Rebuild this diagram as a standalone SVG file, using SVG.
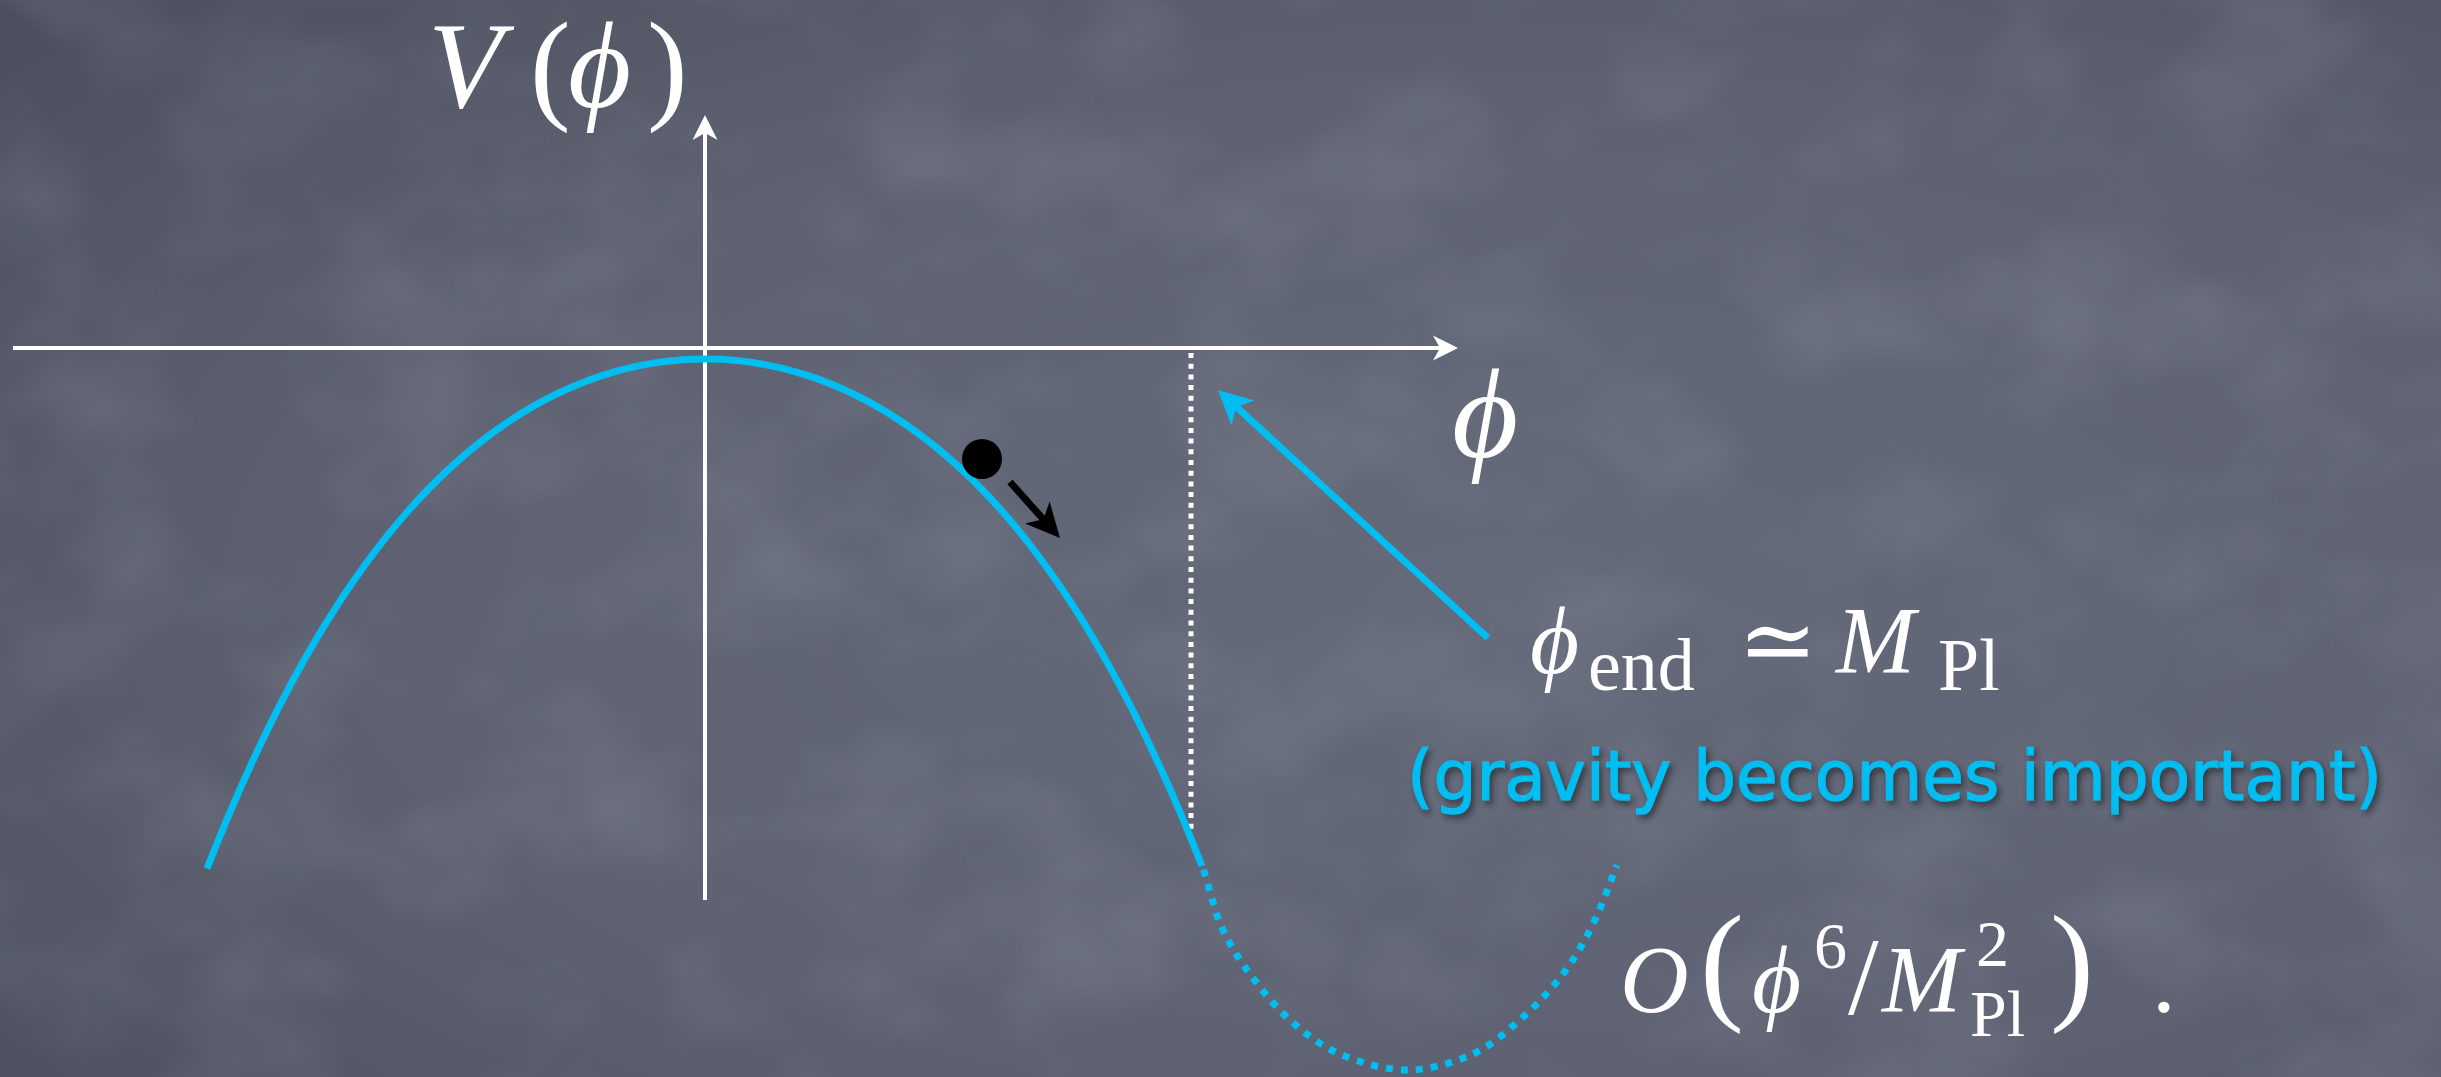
<svg xmlns="http://www.w3.org/2000/svg" width="2441" height="1077" viewBox="0 0 2441 1077">
  <style>
    .math { font-family: "Liberation Serif", "DejaVu Serif", serif; fill: #ffffff; }
    .it { font-style: italic; }
    .axis { stroke: #ffffff; stroke-width: 4; fill: none; }
    .cy { stroke: #00bef2; stroke-width: 7; fill: none; }
    .note { font-family: "DejaVu Sans", "Noto Sans", sans-serif; fill: #00bef2; stroke: #00bef2; stroke-width: 1.2; font-size: 70px; }
  </style>
  <defs>
    <radialGradient id="bg" cx="0.62" cy="0.55" r="0.8">
      <stop offset="0" stop-color="#656a7a"/>
      <stop offset="0.6" stop-color="#5d6171"/>
      <stop offset="1" stop-color="#4c505e"/>
    </radialGradient>
    <filter id="chalk" x="0" y="0" width="1" height="1">
      <feTurbulence type="fractalNoise" baseFrequency="0.006 0.008" numOctaves="3" seed="7"/>
      <feColorMatrix type="matrix" values="0 0 0 0 0.56  0 0 0 0 0.59  0 0 0 0 0.67  0 0 0 1.0 -0.42"/>
    </filter>
    <filter id="shadow" x="-5%" y="-20%" width="110%" height="150%">
      <feDropShadow dx="3" dy="4" stdDeviation="3" flood-color="#22252e" flood-opacity="0.75"/>
    </filter>
    <marker id="whiteHead" viewBox="-16 -13 28 26" refX="0" refY="0" markerWidth="28" markerHeight="26" markerUnits="userSpaceOnUse" orient="auto">
      <path d="M10,0 L-15,-12.5 L-8,0 L-15,12.5 Z" fill="#ffffff"/>
    </marker>
    <marker id="cyanHead" viewBox="-23 -18 37 36" refX="0" refY="0" markerWidth="37" markerHeight="36" markerUnits="userSpaceOnUse" orient="auto">
      <path d="M12,0 L-22,-17 L-13,0 L-22,17 Z" fill="#00bef2"/>
    </marker>
    <marker id="blackHead" viewBox="-23 -18 37 36" refX="0" refY="0" markerWidth="37" markerHeight="36" markerUnits="userSpaceOnUse" orient="auto">
      <path d="M12,0 L-22,-16.5 L-13,0 L-22,16.5 Z" fill="#000000"/>
    </marker>
  </defs>

  <g id="background">
    <rect width="2441" height="1077" fill="url(#bg)"/>
    <rect width="2441" height="1077" filter="url(#chalk)" opacity="0.28"/>
  </g>

  <g id="axes">
    <line class="axis" x1="13" y1="348" x2="1448" y2="348" marker-end="url(#whiteHead)"/>
    <line class="axis" x1="705" y1="900" x2="705" y2="125" marker-end="url(#whiteHead)"/>
    <line x1="1191" y1="353" x2="1191" y2="834" stroke="#ffffff" stroke-width="5" stroke-dasharray="5 5.7"/>
  </g>

  <g id="potential">
    <path class="cy" d="M207,868.6 C239.7,785 272.3,716.2 305,658.6 C338.3,599.8 371.7,552.8 405,514.5 C438.3,476.2 471.7,446.8 505,424 C538.3,401.2 571.7,385.2 605,374.6 C638.3,364.1 671.7,359 705,359 C738.3,359 771.7,364.1 805,374.6 C838.3,385.2 871.7,401.2 905,424 C938.3,446.8 971.7,476.2 1005,514.5 C1038.3,552.8 1071.7,599.8 1105,658.6 C1137.3,715.6 1169.7,783.6 1202,866"/>
    <path class="cy" stroke-dasharray="7 8" stroke-dashoffset="11" d="M1202,866 C1209,884 1214.3,912.5 1223,930 C1231.7,947.5 1238.8,959 1250,974 C1261.2,989 1275,1006.7 1290,1020 C1305,1033.3 1320.5,1045.7 1340,1054 C1359.5,1062.3 1384.8,1070 1407,1070 C1429.2,1070 1453.7,1062.8 1473,1054 C1492.3,1045.2 1508,1030.3 1523,1017 C1538,1003.7 1551.3,989.5 1563,974 C1574.7,958.5 1584,942.2 1593,924 C1602,905.8 1613,874.8 1617,865"/>
  </g>

  <g id="ball">
    <circle cx="982" cy="459" r="20" fill="#000000"/>
  </g>

  <g id="connectors">
    <line x1="1010" y1="482" x2="1052" y2="529" stroke="#000000" stroke-width="7" marker-end="url(#blackHead)"/>
    <line x1="1488" y1="638" x2="1226.8" y2="398.1" stroke="#00bef2" stroke-width="7" marker-end="url(#cyanHead)"/>
  </g>

  <g id="label-V">
    <text class="math" font-size="122" y="107"><tspan class="it" x="428">V</tspan><tspan x="530">(</tspan><tspan class="it" x="568">ϕ</tspan><tspan x="647">)</tspan></text>
  </g>

  <g id="label-phi">
    <text class="math it" font-size="128" x="1452" y="457">ϕ</text>
  </g>

  <g id="label-end">
    <text class="math" font-size="95" y="673"><tspan class="it" x="1530">ϕ</tspan><tspan x="1588" y="690" font-size="74">end</tspan><tspan x="1738" y="673">≃</tspan><tspan class="it" x="1836">M</tspan><tspan x="1938" y="690" font-size="74">Pl</tspan></text>
  </g>

  <g id="label-gravity">
    <text class="note" x="1407" y="800" textLength="975" lengthAdjust="spacingAndGlyphs" filter="url(#shadow)">(gravity becomes important)</text>
  </g>

  <g id="label-order">
    <text class="math" font-size="95" y="1012"><tspan class="it" x="1620">O</tspan><tspan x="1700" y="1006" font-size="132">(</tspan><tspan class="it" x="1752" y="1012">ϕ</tspan><tspan x="1814" y="968" font-size="66">6</tspan><tspan x="1848" y="1014" font-size="110">/</tspan><tspan class="it" x="1882" y="1012">M</tspan><tspan x="1976" y="966" font-size="66">2</tspan><tspan x="1970" y="1036" font-size="66">Pl</tspan><tspan x="2050" y="1006" font-size="132">)</tspan><tspan x="2152" y="1012">.</tspan></text>
  </g>
</svg>
